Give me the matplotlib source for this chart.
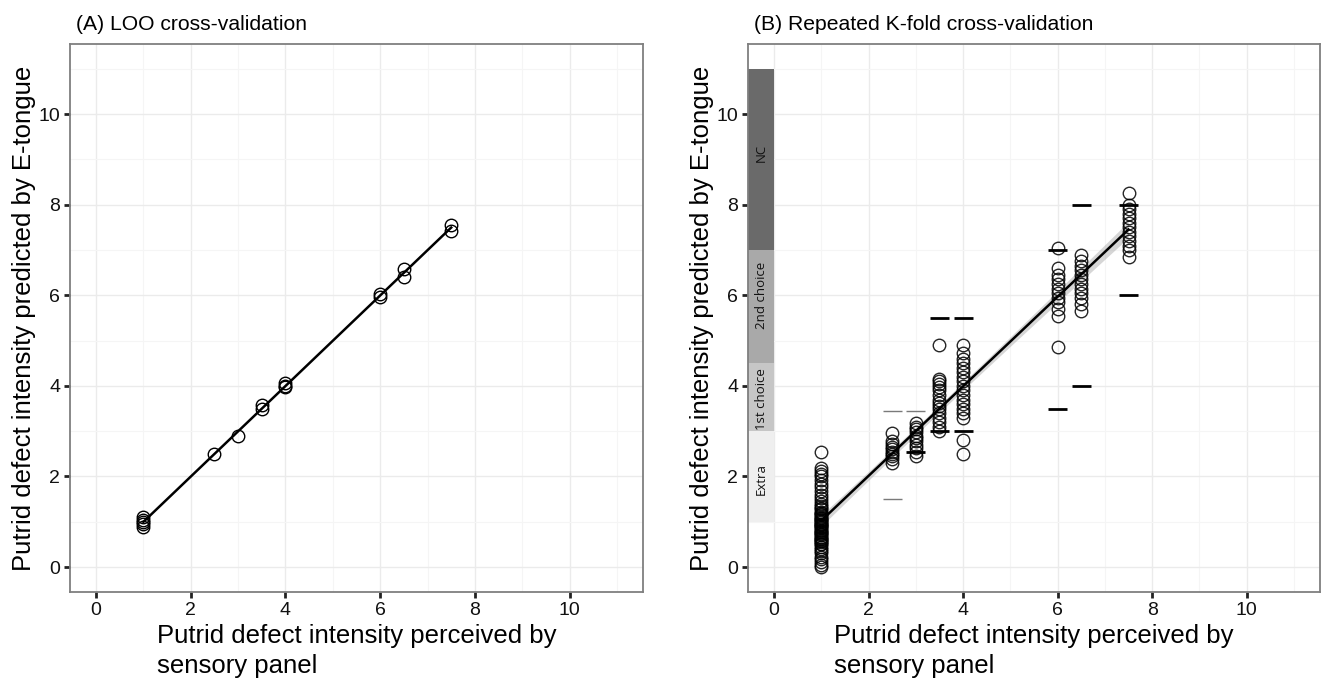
import numpy as np
import matplotlib
matplotlib.use("Agg")
import matplotlib.pyplot as plt

plt.rcParams['font.family'] = ['Liberation Sans', 'DejaVu Sans']

# panel A: LOO cross-validation
a_x = [1, 1, 1, 1, 1, 2.5, 3, 3.5, 3.5, 4, 4, 4, 6, 6, 6.5, 6.5, 7.5, 7.5]
a_y = [0.88, 0.95, 1.0, 1.05, 1.1, 2.5, 2.9, 3.5, 3.58, 3.97, 4.0, 4.06,
       5.97, 6.03, 6.4, 6.58, 7.42, 7.56]

# panel B: repeated K-fold cross-validation
b_y_1 = [0.0, 0.05, 0.12, 0.18, 0.22, 0.3, 0.35, 0.4, 0.45, 0.5, 0.52, 0.58,
         0.62, 0.66, 0.7, 0.74, 0.78, 0.82, 0.86, 0.9, 0.93, 0.96, 1.0, 1.03,
         1.06, 1.1, 1.14, 1.18, 1.22, 1.28, 1.34, 1.4, 1.46, 1.52, 1.6, 1.68,
         1.76, 1.84, 1.92, 2.0, 2.06, 2.12, 2.18, 0.55, 0.65, 0.8, 0.88, 0.95,
         1.02, 1.08, 1.2, 0.75, 0.6, 1.3, 2.55]
b_y_25 = [2.3, 2.38, 2.45, 2.5, 2.55, 2.6, 2.66, 2.72, 2.78, 2.95]
b_y_3 = [2.45, 2.55, 2.62, 2.7, 2.78, 2.85, 2.9, 2.98, 3.05, 3.1, 3.18]
b_y_35 = [3.0, 3.1, 3.2, 3.3, 3.4, 3.48, 3.55, 3.62, 3.7, 3.8, 3.9, 3.98,
          4.05, 4.1, 4.15, 4.9]
b_y_4 = [2.5, 2.8, 3.3, 3.4, 3.5, 3.6, 3.7, 3.8, 3.9, 4.0, 4.1, 4.2, 4.3,
         4.4, 4.5, 4.6, 4.72, 4.9]
b_y_6 = [4.85, 5.55, 5.7, 5.85, 5.95, 6.05, 6.15, 6.25, 6.35, 6.45, 6.6, 7.05]
b_y_65 = [5.65, 5.8, 5.95, 6.05, 6.15, 6.25, 6.35, 6.45, 6.55, 6.65, 6.75, 6.9]
b_y_75 = [6.85, 7.0, 7.1, 7.2, 7.3, 7.4, 7.5, 7.6, 7.7, 7.8, 7.9, 8.0, 8.25]
b_groups = [(1, b_y_1), (2.5, b_y_25), (3, b_y_3), (3.5, b_y_35), (4, b_y_4),
            (6, b_y_6), (6.5, b_y_65), (7.5, b_y_75)]

# panel-acceptance range marks
dash_x = [2.5, 2.5, 3, 3, 3.5, 3.5, 4, 4, 6, 6, 6.5, 6.5, 7.5, 7.5]
dash_y = [3.45, 1.5, 3.45, 2.55, 5.5, 3.0, 5.5, 3.0, 7.0, 3.5, 8.0, 4.0, 8.0, 6.0]
dash_thin = [True, True, True, False, False, False, False, False,
             False, False, False, False, False, False]

# commercial categories
cat_names = ['Extra', '1st choice', '2nd choice', 'NC']
cat_lo = [1, 3, 4.5, 7]
cat_hi = [3, 4.5, 7, 11]
cat_label_y = [1.95, 3.7, 6.0, 9.15]
cat_colors = ['#efefef', '#c6c6c6', '#a9a9a9', '#6a6a6a']

fig = plt.figure(figsize=(13.25, 6.82), dpi=100)
ax_a = fig.add_axes([0.0528, 0.132, 0.4325, 0.8035])
ax_b = fig.add_axes([0.5645, 0.132, 0.4317, 0.8035])


def style(ax, title):
    ax.set_xlim(-0.55, 11.55)
    ax.set_ylim(-0.55, 11.55)
    ax.set_xticks(range(0, 11, 2))
    ax.set_yticks(range(0, 11, 2))
    ax.set_xticks(range(1, 12, 2), minor=True)
    ax.set_yticks(range(1, 12, 2), minor=True)
    ax.grid(True, which='major', color='#ebebeb', lw=1.0, zorder=0)
    ax.grid(True, which='minor', color='#f5f5f5', lw=0.8, zorder=0)
    ax.set_axisbelow(True)
    ax.tick_params(which='major', length=4, width=2, color='#222222',
                   labelsize=14, labelcolor='#111111', pad=3)
    ax.tick_params(which='minor', length=0)
    for s in ax.spines.values():
        s.set_color('#7f7f7f')
        s.set_linewidth(1.3)
    ax.set_xlabel('Putrid defect intensity perceived by\nsensory panel',
                  fontsize=18.5, multialignment='left', labelpad=4,
                  linespacing=1.3)
    ax.set_ylabel('Putrid defect intensity predicted by E-tongue', fontsize=18.5,
                  labelpad=2)
    ax.set_title(title, loc='left', fontsize=15.2, pad=10, x=0.01)


def fit_line(ax, x, y, band):
    x = np.asarray(x, float)
    y = np.asarray(y, float)
    k, b = np.polyfit(x, y, 1)
    xs = np.linspace(x.min(), x.max(), 50)
    ys = k * xs + b
    if band:
        n = len(x)
        res = y - (k * x + b)
        s = np.sqrt(np.sum(res ** 2) / (n - 2))
        se = s * np.sqrt(1 / n + (xs - x.mean()) ** 2 / np.sum((x - x.mean()) ** 2))
        ax.fill_between(xs, ys - 1.97 * se, ys + 1.97 * se, color='#999999',
                        alpha=0.4, lw=0, zorder=2)
    ax.plot(xs, ys, color='black', lw=1.8, zorder=3)


# panel A
style(ax_a, '(A) LOO cross-validation')
fit_line(ax_a, a_x, a_y, band=False)
ax_a.plot(a_x, a_y, 'o', mfc='none', mec='black', mew=1.0, ms=9, zorder=4)

# panel B
style(ax_b, '(B) Repeated K-fold cross-validation')
for name, lo, hi, ly, c in zip(cat_names, cat_lo, cat_hi, cat_label_y, cat_colors):
    ax_b.axhspan(lo, hi, xmin=0, xmax=0.55 / 12.1, color=c, lw=0, zorder=1)
    ax_b.text(-0.27, ly, name, rotation=90, ha='center',
              va='center', fontsize=9.5, family=['Open Sans', 'DejaVu Sans'],
              color='#111111', zorder=2)

bx = [gx for gx, ys in b_groups for _ in ys]
by = [v for _, ys in b_groups for v in ys]
fit_line(ax_b, bx, by, band=True)
ax_b.plot(bx, by, 'o', mfc='none', mec='black', mew=1.0, ms=9, alpha=0.85,
          zorder=4)
for dx, dy, thin in zip(dash_x, dash_y, dash_thin):
    ax_b.plot([dx - 0.2, dx + 0.2], [dy, dy],
              color='#7a7a7a' if thin else 'black',
              lw=1.0 if thin else 2.0, solid_capstyle='butt', zorder=5)

fig.savefig('out.png', dpi=100)
